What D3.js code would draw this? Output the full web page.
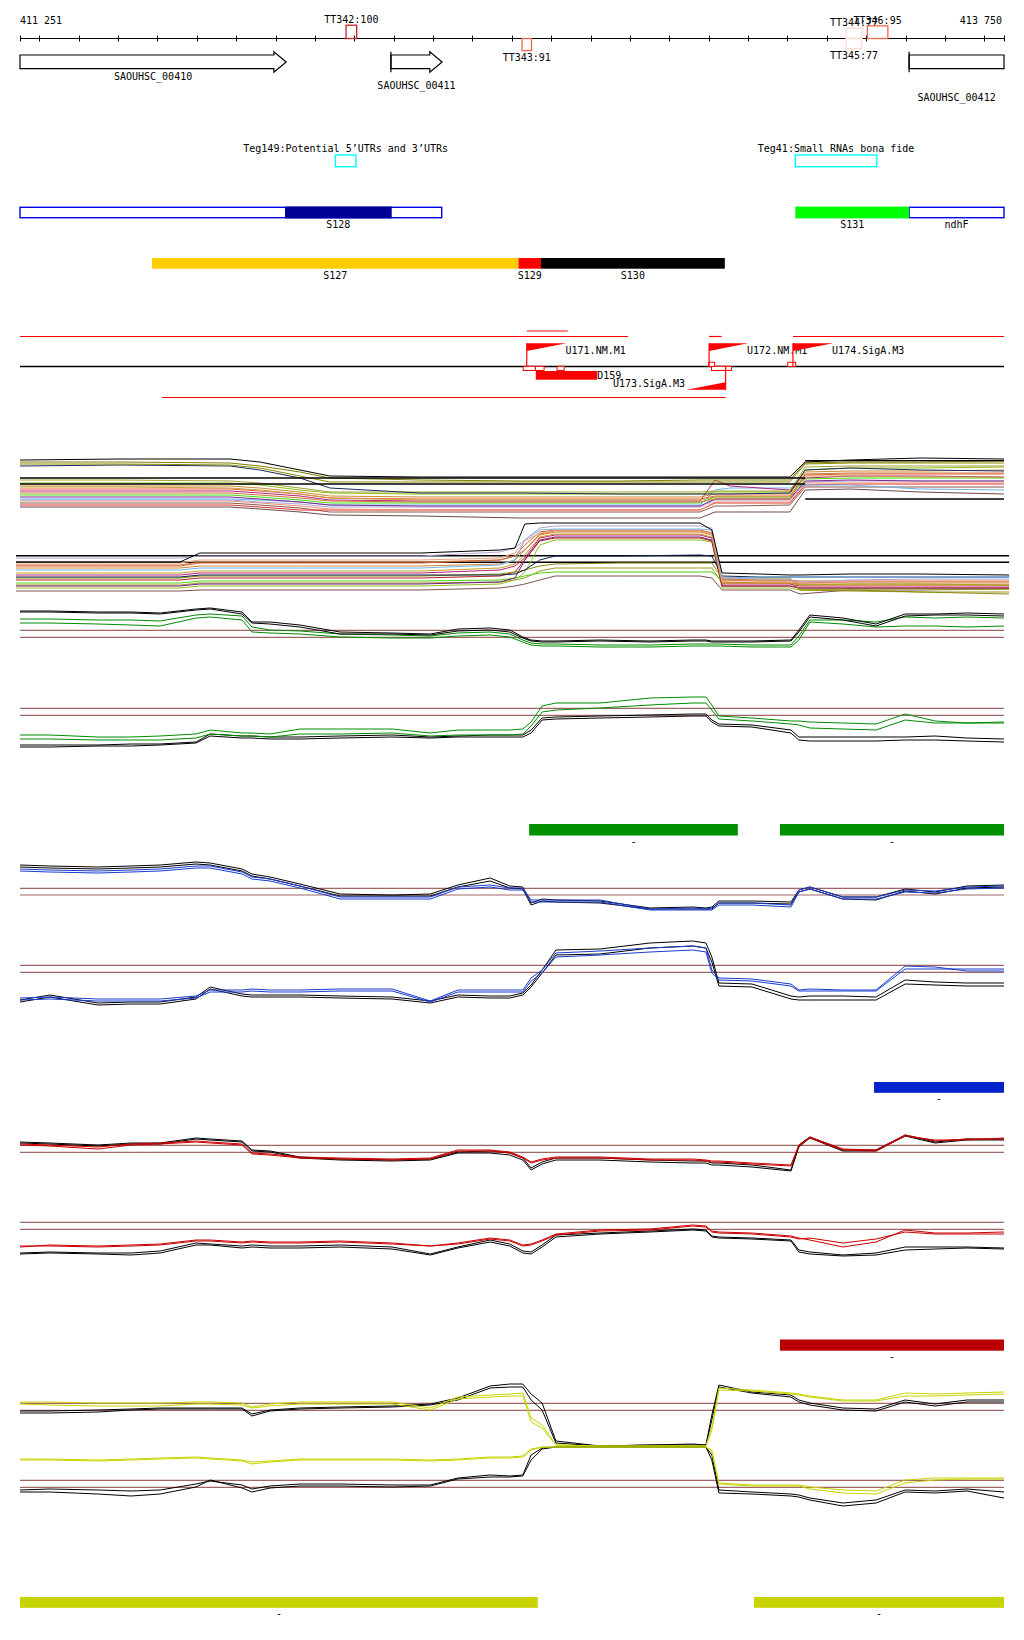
<!DOCTYPE html>
<html><head><meta charset="utf-8">
<script src="https://cdn.jsdelivr.net/npm/d3@7"></script>
<style>
body{margin:0;background:#fff}
text{font-family:"DejaVu Sans Mono",monospace;font-size:10px;fill:#000}
</style>
</head><body>
<svg id="c" width="1024" height="1640"></svg>
<script>
// ---------------- DATA ----------------
const genomeStart = 411251, genomeEnd = 413750;
const axisLabels = ["411 251", "413 750"];
const tickStep = 100;

const ttNames  = ["TT342:100","TT343:91","TT344:77","TT345:77","TT346:95"];
const ttStart  = [412079, 412526, 413349, 413349, 413403];
const ttEnd    = [412106, 412550, 413389, 413389, 413455];
const ttStrand = ["+","-","+","-","+"];
const ttScore  = [100, 91, 77, 77, 95];
const ttColor  = ["#cc2222","#ee6644","#f9dccf","#f9dccf","#f06a4a"];

const geneNames  = ["SAOUHSC_00410","SAOUHSC_00411","SAOUHSC_00412"];
const geneStart  = [411200, 412193, 413509];
const geneEnd    = [411927, 412323, 413900];
const geneLabelRow = [0, 1, 2];

const tegNames = ["Teg149:Potential 5\u2019UTRs and 3\u2019UTRs","Teg41:Small RNAs bona fide"];
const tegStart = [412052, 413220];
const tegEnd   = [412104, 413427];

// segment row 1
const outlineNames = ["", "ndhF"];
const outlineStart = [411251, 413509];
const outlineEnd   = [412322, 413750];
const seg1Names = ["S128","S131"];
const seg1Start = [411924, 413220];
const seg1End   = [412195, 413509];
const seg1Color = ["#000099","#00ff00"];
// segment row 2
const seg2Names = ["S127","S129","S130"];
const seg2Start = [411586, 412517, 412574];
const seg2End   = [412517, 412574, 413041];
const seg2Color = ["#ffcc00","#ff0000","#000000"];

// TSS / transcription units
const tssNames  = ["U171.NM.M1","U172.NM.M1","U174.SigA.M3","U173.SigA.M3"];
const tssPos    = [412538, 413001, 413214, 413043];
const tssEndPos = [412639, 413100, 413316, 412944];
const coverUpperStart = [411251, 413214, 413001];
const coverUpperEnd   = [412795, 413750, 413033];
const coverTopStart = [412538]; const coverTopEnd = [412642];
const coverLowerStart = [411612]; const coverLowerEnd = [413043];
const boxStart = [412529, 412560, 412615, 413007, 413043, 413000, 413201];
const boxEnd   = [412560, 412582, 412633, 413043, 413058, 413015, 413221];
const boxRow   = [0, 0, 0, 0, 0, -1, -1];
const dNames = ["D159"]; const dStart = [412561]; const dEnd = [412717];

// bars
const greenBarStart = [412544, 413181], greenBarEnd = [413074, 413750];
const blueBarStart = [413420], blueBarEnd = [413750];
const redBarStart = [413181], redBarEnd = [413750];
const yellowBarStart = [411251, 413115], yellowBarEnd = [412566, 413750];

// ---- multi-series groups A, B ----
const gridA = [411251,411505,411784,411860,411962,412038,412267,412521,412775,412978,413016,413054,413206,413245,413359,413537,413750];
const grpA01 = [70,71,71,68,60,54,53,53,53,53,53,53,53,68,70,72,71];
const grpA02 = [68,68,67,64,58,52,50,49,49,50,50,50,50,67,68,68,69];
const grpA03 = [66,66,65,62,54,48,48,48,48,48,48,48,48,66,67,67,67];
const grpA04 = [64,65,64,60,52,42,37,37,36,36,36,36,37,60,62,60,59];
const grpA05 = [47,47,47,45,40,37,36,36,36,36,38,38,38,60,62,62,63];
const grpA06 = [44,44,44,42,38,34,33,33,33,33,36,36,36,58,59,59,60];
const grpA07 = [41,41,41,39,36,32,31,31,31,31,34,34,34,55,56,56,56];
const grpA08 = [39,39,39,37,34,30,29,29,29,29,50,44,40,52,54,54,53];
const grpA09 = [43,43,42,40,36,32,30,30,30,30,33,33,33,54,54,53,53];
const grpA10 = [31,31,31,30,28,25,25,25,25,25,40,42,42,45,45,41,40];
const grpA11 = [30,30,30,28,26,23,23,23,23,23,30,30,30,48,49,49,49];
const grpA12 = [27,27,27,25,22,18,18,18,18,18,24,24,25,43,43,43,43];
const grpA13 = [25,25,25,23,20,20,20,20,20,20,27,27,27,45,46,46,46];
const grpA14 = [35,35,35,33,30,27,27,27,27,27,33,33,33,51,52,52,52];
const grpA15 = [33,33,33,31,28,25,24,24,24,24,31,31,31,49,50,49,49];
const grpA16 = [37,37,37,35,32,29,28,28,28,28,31,31,31,56,57,57,57];
const grpA17 = [29,29,29,27,24,21,20,20,20,20,28,28,28,47,47,47,47];
const grpA18 = [50,50,49,47,42,38,38,38,38,38,39,39,39,63,64,64,64];
const grpA19 = [23,23,23,21,18,15,14,12,12,12,18,18,18,40,41,38,36];
const grpAColors = ["#000000","#808000","#8b8b00","#1a2a5a","#88c010","#d08a30","#e8603a","#c0207a","#c8a040","#6ab4ee","#b0a0d8","#8a5a4a","#e03030","#44dd11","#7a2a8a","#c87838","#f09070","#a0a030","#6a4a4a"];
const refAStart = [411251, 411251, 413245, 413245];
const refAEnd   = [413245, 413245, 413750, 413750];
const refAValue = [52, 46, 69.3, 31];

const gridB = [411241,411454,411657,411708,411962,412267,412470,412508,412533,412571,412610,412775,412978,413008,413034,413130,413206,413232,413359,413537,413763];
const grpB01 = [38,38,38,47,47,47,50,52,76,77,77,77,77,70,27,26,25,25,26,26,25];
const grpB02 = [42,42,42,44,44,44,48,52,60,72,74,74,74,72,22,21,20,18,20,21,21];
const grpB03 = [34,34,34,37,37,37,40,44,55,68,70,70,70,67,20,19,19,17,18,18,18];
const grpB04 = [32,32,32,34,34,34,36,40,50,65,68,68,68,65,18,17,17,16,16,16,16];
const grpB05 = [22,22,22,24,24,24,26,28,30,34,36,37,37,37,22,22,22,10,10,8,6];
const grpB06 = [17,17,17,19,19,19,20,22,24,27,28,28,28,28,20,20,20,15,16,16,15];
const grpB07 = [25,25,25,27,27,27,30,34,42,62,65,65,65,62,16,16,16,14,14,14,14];
const grpB08 = [30,30,30,32,32,32,35,40,60,70,71,71,71,70,22,23,23,23,23,23,23];
const grpB09 = [9,9,9,10,10,10,12,14,16,20,24,24,24,22,10,10,10,6,10,10,11];
const grpB10 = [37,37,37,40,40,40,42,47,59,67,69,69,69,66,19,19,18,18,18,18,18];
const grpB11 = [14,14,14,16,16,16,18,22,40,60,63,63,63,60,14,14,14,12,12,12,12];
const grpB12 = [27,27,27,29,29,29,32,36,45,63,66,66,66,63,17,17,17,15,15,15,15];
const grpB13 = [20,20,20,22,22,22,24,28,40,59,62,62,62,59,14,14,14,12,12,12,12];
const grpB14 = [23,23,23,25,25,25,25,26,30,40,44,44,45,44,24,23,23,23,23,23,23];
const grpB15 = [12,12,12,14,14,14,16,20,28,55,60,60,60,58,12,12,12,10,11,11,11];
const grpB16 = [35,35,35,38,38,38,40,44,50,66,69,69,69,67,21,20,20,19,19,19,19];
const grpB17 = [15,15,15,17,17,17,18,20,22,29,32,32,32,32,17,17,17,10,9,8,8];
const grpBColors = ["#000000","#b8a0d0","#e05a3a","#d48830","#8a8a10","#50d010","#c0207a","#70b8f0","#805050","#f0a080","#702080","#c8a020","#b02020","#102050","#90c020","#c87838","#9a9a20"];
const refBValue = [44.3, 37.7];

// ---- condition tracks C..I ----
const gridCI = [411251,411327,411449,411533,411607,411698,411734,411815,411840,411886,411962,412064,412196,412293,412363,412445,412495,412528,412549,412577,412612,412724,412851,412960,412993,413008,413026,413110,413209,413229,413257,413341,413425,413499,413575,413656,413750];

const cBlack1 = [39,39,38,38,37,41,42,38,28,28,25,18,17,16,21,22,20,13,10,9,9,10,9,10,10,9,9,9,10,20,35,32,26,36,36,37,36];
const cBlack2 = [38,38,37,37,36,40,41,36,27,26,23,16,16,15,19,20,18,12,9,8,8,9,8,9,9,8,8,8,9,18,33,30,24,34,35,35,34];
const cGreen1 = [31,31,30,30,29,35,36,34,23,20,19,16,15,14,17,18,16,10,7,6,6,5,5,6,6,6,6,5,5,14,30,30,28,33,32,33,32];
const cGreen2 = [27,27,26,25,24,32,33,30,18,17,16,13,12,12,14,15,13,8,5,4,4,3,3,4,4,4,4,3,3,10,28,26,23,24,24,23,24];
const cRefs = [19.7, 12.7];

const dGreen1 = [25,25,23,23,24,26,30,27,27,26,31,31,31,27,30,30,30,31,38,54,57,57,62,63,63,55,44,42,39,39,38,37,36,46,39,37,38];
const dGreen2 = [21,21,20,20,20,22,26,24,24,23,26,26,27,24,25,25,25,26,34,48,50,52,55,57,57,50,41,39,36,35,32,31,30,40,37,37,37];
const dBlack1 = [15,15,15,16,16,18,26,24,24,23,23,24,25,23,24,25,25,25,30,42,43,44,45,46,46,40,36,35,30,23,23,23,23,23,24,22,21];
const dBlack2 = [13,13,14,14,15,17,24,22,22,21,21,22,23,22,23,23,23,23,27,40,41,42,43,44,44,38,34,33,27,20,19,19,19,20,20,19,18];
const dRefs = [51.7, 44.7];

const eBlack1 = [50,49,48,49,50,53,52,46,41,38,31,21,20,21,30,37,29,28,12,16,15,14,7,8,7,8,14,14,13,25,28,18,18,26,23,29,30];
const eBlack2 = [48,47,46,47,48,51,50,44,39,36,29,19,19,19,28,34,27,26,10,14,13,12,6,6,6,6,12,12,11,23,26,16,15,24,21,27,28];
const eBlue1  = [46,45,44,45,46,49,49,43,38,36,29,18,18,18,28,30,27,27,15,15,15,15,6,7,6,7,12,12,10,25,28,18,18,25,24,28,29];
const eBlue2  = [44,43,42,43,44,47,47,41,36,34,27,16,16,16,26,28,25,25,13,13,13,13,5,5,5,5,10,10,8,23,26,16,16,23,22,26,27];
const eRefs = [26.7, 20];

const fBlack1 = [15,20,12,13,13,18,28,21,20,20,20,19,18,14,20,19,19,22,30,45,65,66,72,74,72,58,32,31,19,18,19,19,18,35,33,32,32];
const fBlack2 = [13,18,10,11,11,16,26,19,18,18,18,17,16,12,18,17,17,20,28,42,60,61,67,69,67,53,29,28,16,15,15,15,15,31,30,29,29];
const fBlue1  = [17,18,16,16,16,19,25,25,26,25,25,26,26,14,25,25,25,25,37,45,62,64,67,69,67,45,37,36,31,25,26,25,25,49,48,44,44];
const fBlue2  = [15,16,14,14,14,17,23,23,24,23,23,24,24,13,23,23,23,23,34,42,58,60,63,65,63,42,35,34,29,24,24,24,24,46,46,46,46];
const fRefs = [49.7, 42.7];

const gBlack1 = [33,32,30,32,32,37,36,34,25,24,18,16,15,16,23,24,22,17,7,13,17,17,15,14,14,12,12,10,5,30,38,25,25,40,33,36,36];
const gBlack2 = [32,31,29,31,31,36,35,33,24,23,17,15,14,15,22,22,20,15,5,11,15,15,13,12,12,10,10,8,4,28,37,24,24,39,32,35,35];
const gRed1   = [31,30,28,31,32,34,33,31,22,21,18,17,16,17,25,25,23,18,13,16,18,18,16,16,15,14,14,12,10,30,38,26,25,40,34,36,36];
const gRed2   = [30,29,26,30,31,33,32,30,21,20,17,16,15,16,24,24,22,17,12,15,17,17,15,15,14,13,13,11,9,29,37,25,24,39,35,35,37];
const gRefs = [29.7, 22.7];

const hRed1   = [18,20,19,20,21,25,25,23,24,23,23,24,22,19,22,27,25,20,21,25,31,35,36,40,39,34,33,32,29,27,25,18,23,35,32,32,33];
const hRed2   = [19,19,18,19,20,24,24,22,23,22,22,23,21,19,21,26,24,19,20,24,30,34,35,39,38,33,32,31,28,26,27,22,26,33,31,31,31];
const hBlack1 = [12,13,12,12,14,22,21,19,20,19,19,20,18,11,18,25,21,14,13,20,30,32,34,36,35,29,28,27,25,15,13,10,12,18,18,18,17];
const hBlack2 = [11,12,11,10,12,20,20,17,18,17,17,18,16,10,17,23,19,12,11,18,28,31,33,35,34,28,27,26,24,13,11,9,10,15,16,17,16];
const hRefs = [42.7, 35.7];

const iTopYellow1 = [48,48,47,47,47,48,48,47,43,46,48,48,48,42,53,55,56,57,32,25,5,4,4,4,4,23,62,60,57,56,54,50,50,57,56,57,58];
const iTopYellow2 = [46,45,44,44,44,46,46,45,42,44,46,46,46,40,51,53,54,54,28,22,5,4,4,4,4,20,60,59,56,55,53,49,49,54,54,55,56];
const iTopBlack1  = [37,37,38,40,41,41,41,41,34,39,41,42,43,45,50,62,63,63,50,40,7,4,5,6,5,30,63,57,53,48,45,40,39,48,44,48,48];
const iTopBlack2  = [39,39,40,41,42,42,42,42,36,40,42,43,44,46,52,64,66,66,56,47,9,4,5,5,5,35,65,58,55,50,47,42,41,50,46,50,50];
const iTopRefs = [46.7, 39.7];

const iBotYellow1 = [51,51,50,51,52,53,52,50,48,49,51,51,51,50,51,53,53,54,61,63,63,63,63,63,63,60,27,25,25,25,23,20,19,30,32,32,32];
const iBotYellow2 = [50,50,49,50,51,52,51,49,46,48,50,50,50,49,50,52,52,53,60,63,63,63,63,63,63,58,26,24,24,24,21,17,16,27,30,31,31];
const iBotBlack1  = [18,18,16,14,16,23,30,22,18,22,24,24,23,24,31,33,33,34,50,61,63,63,63,63,63,50,17,16,14,13,10,4,7,18,17,19,12];
const iBotBlack2  = [20,21,20,19,20,26,29,25,21,24,26,26,25,25,32,35,34,35,55,62,63,63,63,63,63,55,20,18,16,15,12,7,10,20,19,21,18];
const iBotRefs = [29.7, 22.7];

// ---------------- DRAW ----------------
const svg = d3.select("#c");
const x = d3.scaleLinear().domain([genomeStart, genomeEnd]).range([20, 1004]);
const AXY = 38.5;

// axis
svg.append("line").attr("x1", x(genomeStart)).attr("x2", x(genomeEnd)).attr("y1", AXY).attr("y2", AXY).attr("stroke", "#000");
const ticks = [genomeStart].concat(d3.range(Math.ceil(genomeStart/tickStep)*tickStep, genomeEnd, tickStep)).concat([genomeEnd]);
svg.selectAll("line.tk").data(ticks).join("line").attr("class","tk")
  .attr("x1", d => Math.round(x(d)) + 0.5).attr("x2", d => Math.round(x(d)) + 0.5)
  .attr("y1", 35.5).attr("y2", 41.5).attr("stroke", "#000");
svg.append("text").attr("x", 20).attr("y", 24).text(axisLabels[0]);
svg.append("text").attr("x", 1002).attr("y", 24).attr("text-anchor","end").text(axisLabels[1]);

// terminators
ttNames.forEach((n, i) => {
  const h = 13.3 * ttScore[i] / 100;
  const x0 = x(ttStart[i]), x1 = x(ttEnd[i]);
  const top = ttStrand[i] === "+" ? AXY - h : AXY;
  svg.append("rect").attr("x", x0).attr("y", top).attr("width", x1 - x0).attr("height", h)
    .attr("fill", "none").attr("stroke", ttColor[i]).attr("stroke-width", 1.3);
  const ly = ttStrand[i] === "+" ? top - 2.3 : top + h + 10.5;
  svg.append("text").attr("x", (x0 + x1) / 2).attr("y", ly).attr("text-anchor","middle").text(n);
});

// genes
const geneLabelY = [80, 89, 101];
geneNames.forEach((n, i) => {
  const xs = x(Math.max(geneStart[i], genomeStart));
  const clippedEnd = geneEnd[i] > genomeEnd;
  const xe = x(Math.min(geneEnd[i], genomeEnd));
  const head = 12.3;
  let pts;
  if (clippedEnd) {
    pts = [[xs,55],[xe,55],[xe,68.7],[xs,68.7]];
  } else {
    const xh = xe - head;
    pts = [[xs,55],[xh,55],[xh,51.7],[xe,62],[xh,72.3],[xh,68.7],[xs,68.7]];
  }
  svg.append("polygon").attr("points", pts.map(p => p.join(",")).join(" "))
    .attr("fill", "#fff").attr("stroke", "#000").attr("stroke-width", 1.2);
  if (geneStart[i] > genomeStart) {
    svg.append("line").attr("x1", xs).attr("x2", xs).attr("y1", 51.7).attr("y2", 72.3).attr("stroke","#000").attr("stroke-width",1.2);
  }
  svg.append("text").attr("x", (xs + xe) / 2).attr("y", geneLabelY[geneLabelRow[i]]).attr("text-anchor","middle").text(n);
});

// Teg boxes
tegNames.forEach((n, i) => {
  const x0 = x(tegStart[i]), x1 = x(tegEnd[i]);
  svg.append("rect").attr("x", x0).attr("y", 155).attr("width", x1 - x0).attr("height", 11.7)
    .attr("fill","none").attr("stroke","#00ffff").attr("stroke-width",1.4);
  svg.append("text").attr("x", (x0 + x1) / 2).attr("y", 151.5).attr("text-anchor","middle").text(n);
});

// segment row 1
outlineNames.forEach((n, i) => {
  const x0 = x(outlineStart[i]), x1 = x(outlineEnd[i]);
  svg.append("rect").attr("x", x0).attr("y", 207.3).attr("width", x1 - x0).attr("height", 10.4)
    .attr("fill","#fff").attr("stroke","#0000ee").attr("stroke-width",1.4);
  if (n) svg.append("text").attr("x", (x0 + x1) / 2).attr("y", 228).attr("text-anchor","middle").text(n);
});
seg1Names.forEach((n, i) => {
  const x0 = x(seg1Start[i]), x1 = x(seg1End[i]);
  svg.append("rect").attr("x", x0).attr("y", 206.6).attr("width", x1 - x0).attr("height", 11.8).attr("fill", seg1Color[i]);
  svg.append("text").attr("x", (x0 + x1) / 2).attr("y", 228).attr("text-anchor","middle").text(n);
});
// segment row 2
seg2Names.forEach((n, i) => {
  const x0 = x(seg2Start[i]), x1 = x(seg2End[i]);
  svg.append("rect").attr("x", x0).attr("y", 258).attr("width", x1 - x0).attr("height", 10.7).attr("fill", seg2Color[i]);
  svg.append("text").attr("x", (x0 + x1) / 2).attr("y", 278.5).attr("text-anchor","middle").text(n);
});

// transcription-unit row
const RED = "#ff0000";
const hl = (a, b, yy, col, w) => svg.append("line").attr("x1", x(a)).attr("x2", x(b)).attr("y1", yy).attr("y2", yy).attr("stroke", col).attr("stroke-width", w);
coverUpperStart.forEach((s, i) => hl(s, coverUpperEnd[i], 336.5, RED, 1.2));
coverTopStart.forEach((s, i) => hl(s, coverTopEnd[i], 331, RED, 1.2));
coverLowerStart.forEach((s, i) => hl(s, coverLowerEnd[i], 397.5, RED, 1.2));
hl(genomeStart, genomeEnd, 366.5, "#000", 1.4);
dNames.forEach((n, i) => {
  svg.append("rect").attr("x", x(dStart[i])).attr("y", 371).attr("width", x(dEnd[i]) - x(dStart[i])).attr("height", 8.7).attr("fill", RED);
  svg.append("text").attr("x", x(dEnd[i])).attr("y", 379).text(n);
});
boxStart.forEach((s, i) => {
  const top = boxRow[i] === 0 ? 366.3 : 362.3;
  svg.append("rect").attr("x", x(s)).attr("y", top).attr("width", x(boxEnd[i]) - x(s)).attr("height", 4.2)
    .attr("fill", "#fff").attr("stroke", RED).attr("stroke-width", 1);
});
// labels first, then triangles (triangles overlap labels as in original)
tssNames.forEach((n, i) => {
  const fwd = tssEndPos[i] > tssPos[i];
  if (fwd) svg.append("text").attr("x", x(tssEndPos[i]) - 1).attr("y", 354).text(n);
  else svg.append("text").attr("x", x(tssEndPos[i]) - 1.5).attr("y", 386.7).attr("text-anchor","end").text(n);
});
tssNames.forEach((n, i) => {
  const fwd = tssEndPos[i] > tssPos[i];
  const xp = x(tssPos[i]), xq = x(tssEndPos[i]);
  if (fwd) {
    svg.append("line").attr("x1", xp).attr("x2", xp).attr("y1", 343.3).attr("y2", 366.3).attr("stroke", RED).attr("stroke-width", 1.2);
    svg.append("polygon").attr("points", `${xp},343.3 ${xq},343.3 ${xp},351`).attr("fill", RED);
  } else {
    svg.append("line").attr("x1", xp).attr("x2", xp).attr("y1", 366.3).attr("y2", 389.7).attr("stroke", RED).attr("stroke-width", 1.2);
    svg.append("polygon").attr("points", `${xq},389.7 ${xp},389.7 ${xp},382.3`).attr("fill", RED);
  }
});

// generic line-track drawer
function track(base, grid, seriesList, colors, refs, refColor, refRange, refW) {
  const y = d3.scaleLinear().domain([0, 100]).range([base, base - 100]);
  if (refs) refs.forEach(v => {
    svg.append("line").attr("x1", x(refRange[0])).attr("x2", x(refRange[1]))
      .attr("y1", y(v)).attr("y2", y(v)).attr("stroke", refColor).attr("stroke-width", refW || 1.2);
  });
  const ln = d3.line().x((d, i) => x(grid[i])).y(d => y(d));
  seriesList.forEach((s, i) => {
    svg.append("path").attr("d", ln(s)).attr("fill", "none").attr("stroke", colors[i]).attr("stroke-width", 1);
  });
  return y;
}
const BROWN = "#a06666";
const full = [genomeStart, genomeEnd];

// group A
const yA = track(530, gridA,
  [grpA19,grpA12,grpA13,grpA17,grpA11,grpA10,grpA15,grpA14,grpA08,grpA16,grpA07,grpA09,grpA06,grpA05,grpA18,grpA04,grpA03,grpA02,grpA01],
  ["#6a4a4a","#8a5a4a","#e03030","#f09070","#b0a0d8","#6ab4ee","#7a2a8a","#44dd11","#c0207a","#c87838","#e8603a","#c8a040","#d08a30","#88c010","#a0a030","#1a2a5a","#8b8b00","#808000","#000000"]);
refAStart.forEach((s, i) => {
  svg.append("line").attr("x1", x(s)).attr("x2", x(refAEnd[i])).attr("y1", yA(refAValue[i])).attr("y2", yA(refAValue[i]))
    .attr("stroke", "#000").attr("stroke-width", 1.3);
});
// group B
track(600, gridB,
  [grpB09,grpB17,grpB06,grpB15,grpB11,grpB13,grpB05,grpB14,grpB07,grpB12,grpB04,grpB03,grpB16,grpB10,grpB08,grpB02,grpB01],
  ["#805050","#9a9a20","#50d010","#90c020","#702080","#b02020","#8a8a10","#102050","#c0207a","#c8a020","#d48830","#e05a3a","#c87838","#f0a080","#70b8f0","#b8a0d0","#000000"],
  refBValue, "#000", [411241, 413763], 1.5);

// tracks C..I
const GREEN = "#008c00", BLUE = "#1a3ad0", DRED = "#cc0000", YEL = "#c8d400";
track(650, gridCI, [cGreen2, cGreen1, cBlack2, cBlack1], [GREEN, GREEN, "#000", "#000"], cRefs, BROWN, full);
track(760, gridCI, [dBlack2, dBlack1, dGreen2, dGreen1], ["#000", "#000", GREEN, GREEN], dRefs, BROWN, full);
track(915, gridCI, [eBlack2, eBlack1, eBlue2, eBlue1], ["#000", "#000", BLUE, BLUE], eRefs, BROWN, full);
track(1015, gridCI, [fBlack2, fBlack1, fBlue2, fBlue1], ["#000", "#000", BLUE, BLUE], fRefs, BROWN, full);
track(1175, gridCI, [gBlack2, gBlack1, gRed2, gRed1], ["#000", "#000", DRED, DRED], gRefs, BROWN, full);
track(1265, gridCI, [hBlack2, hBlack1, hRed2, hRed1], ["#000", "#000", DRED, DRED], hRefs, BROWN, full);
track(1450, gridCI, [iTopBlack2, iTopBlack1, iTopYellow2, iTopYellow1], ["#000", "#000", YEL, YEL], iTopRefs, BROWN, full);
track(1510, gridCI, [iBotBlack2, iBotBlack1, iBotYellow2, iBotYellow1], ["#000", "#000", YEL, YEL], iBotRefs, BROWN, full);

// bars
function bars(starts, ends, top, h, color) {
  starts.forEach((s, i) => {
    const x0 = x(s), x1 = x(ends[i]);
    svg.append("rect").attr("x", x0).attr("y", top).attr("width", x1 - x0).attr("height", h).attr("fill", color);
    svg.append("text").attr("x", (x0 + x1) / 2).attr("y", top + h + 9).attr("text-anchor","middle").text("-");
  });
}
bars(greenBarStart, greenBarEnd, 824, 11.5, "#009000");
bars(blueBarStart, blueBarEnd, 1082, 10.8, "#0022cc");
bars(redBarStart, redBarEnd, 1339.5, 11.2, "#bb0000");
bars(yellowBarStart, yellowBarEnd, 1597, 10.8, "#c8d400");
</script>
</body></html>
